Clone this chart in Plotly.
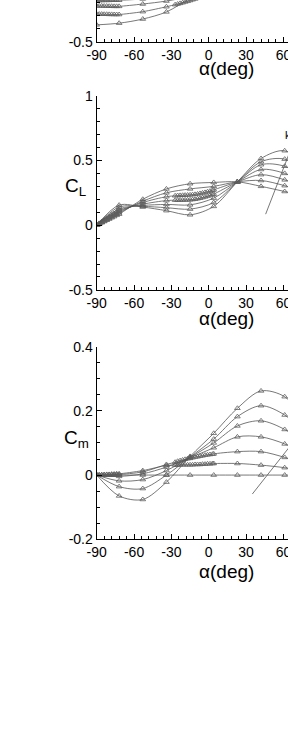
import plotly.graph_objects as go

# ---------------- data ----------------
ALPHA = [-90, -72, -53, -34, -15, 4, 23, 42, 61, 80]
DENSE_LEFT_ALPHA = [-88, -86, -84, -82, -80, -78, -76, -74]
DENSE_MID_ALPHA = [-27, -25, -23, -21, -19, -17, -13, -11, -9, -7, -5, -3, -1, 1, 3]

# top panel (only its lower part is visible), values at ALPHA[:6]
TOP_A = [-0.370, -0.357, -0.325, -0.270, -0.165, -0.060]
TOP_B = [-0.287, -0.290, -0.268, -0.230, -0.182, -0.125]
TOP_C = [-0.224, -0.227, -0.209, -0.186, -0.150, -0.100]
TOP_D = [-0.182, -0.180, -0.170, -0.150, -0.120, -0.090]
TOP_B_DENSE_LEFT = [-0.287, -0.287, -0.288, -0.288, -0.289, -0.289, -0.290, -0.290]
TOP_C_DENSE_LEFT = [-0.224, -0.224, -0.225, -0.225, -0.226, -0.226, -0.227, -0.227]
TOP_D_DENSE_LEFT = [-0.182, -0.182, -0.181, -0.181, -0.181, -0.180, -0.180, -0.180]
TOP_B_DENSE_MID = [-0.214, -0.209, -0.204, -0.199, -0.193, -0.188, -0.176, -0.170,
                   -0.164, -0.158, -0.152, -0.146, -0.140, -0.134, -0.128]

# lift coefficient, seven curves
CL_K0 = [0, 0.085, 0.200, 0.280, 0.320, 0.330, 0.335, 0.300, 0.260, 0.220]
CL_K1 = [0, 0.095, 0.185, 0.250, 0.280, 0.300, 0.335, 0.345, 0.305, 0.250]
CL_K2 = [0, 0.105, 0.175, 0.220, 0.234, 0.273, 0.335, 0.390, 0.350, 0.280]
CL_K3 = [0, 0.115, 0.162, 0.190, 0.196, 0.240, 0.335, 0.430, 0.400, 0.310]
CL_K4 = [0, 0.125, 0.152, 0.160, 0.157, 0.209, 0.335, 0.467, 0.455, 0.350]
CL_K5 = [0, 0.140, 0.145, 0.135, 0.124, 0.175, 0.335, 0.490, 0.510, 0.390]
CL_K6 = [0, 0.155, 0.140, 0.112, 0.080, 0.145, 0.335, 0.515, 0.575, 0.440]
CL_K0_DENSE_LEFT = [0.009, 0.019, 0.028, 0.038, 0.047, 0.057, 0.066, 0.076]
CL_K1_DENSE_LEFT = [0.011, 0.021, 0.032, 0.042, 0.053, 0.063, 0.074, 0.084]
CL_K2_DENSE_LEFT = [0.012, 0.024, 0.036, 0.047, 0.059, 0.070, 0.082, 0.093]
CL_K3_DENSE_LEFT = [0.014, 0.027, 0.040, 0.053, 0.066, 0.078, 0.090, 0.103]
CL_K2_DENSE_MID = [0.227, 0.229, 0.230, 0.231, 0.232, 0.233, 0.236, 0.238,
                   0.241, 0.245, 0.249, 0.253, 0.258, 0.263, 0.270]
CL_K3_DENSE_MID = [0.193, 0.193, 0.194, 0.194, 0.195, 0.195, 0.198, 0.200,
                   0.204, 0.208, 0.213, 0.218, 0.224, 0.230, 0.237]

# pitching-moment coefficient, seven curves
CM_K0 = [0, 0, 0, 0, 0, 0, 0, 0, 0, 0]
CM_K1 = [0, 0.004, 0.014, 0.030, 0.032, 0.036, 0.036, 0.031, 0.023, 0.012]
CM_K2 = [0, 0.002, 0.010, 0.033, 0.052, 0.066, 0.073, 0.073, 0.055, 0.030]
CM_K3 = [0, -0.004, 0.004, 0.025, 0.054, 0.085, 0.119, 0.119, 0.097, 0.060]
CM_K4 = [0, -0.018, -0.014, 0.014, 0.055, 0.100, 0.153, 0.169, 0.142, 0.090]
CM_K5 = [0, -0.036, -0.042, 0.000, 0.056, 0.112, 0.182, 0.216, 0.187, 0.120]
CM_K6 = [0, -0.065, -0.076, -0.022, 0.058, 0.130, 0.208, 0.262, 0.244, 0.160]
CM_K0_DENSE_LEFT = [0, 0, 0, 0, 0, 0, 0, 0]
CM_K1_DENSE_LEFT = [0.000, 0.001, 0.001, 0.002, 0.002, 0.003, 0.003, 0.004]
CM_K2_DENSE_LEFT = [0.000, 0.000, 0.001, 0.001, 0.001, 0.001, 0.002, 0.002]
CM_K1_DENSE_MID = [0.031, 0.031, 0.032, 0.032, 0.032, 0.032, 0.032, 0.033,
                   0.033, 0.033, 0.034, 0.034, 0.035, 0.035, 0.036]
CM_K2_DENSE_MID = [0.040, 0.043, 0.045, 0.047, 0.049, 0.051, 0.054, 0.056,
                   0.057, 0.059, 0.060, 0.062, 0.063, 0.064, 0.065]

# "k" direction line in each panel
ARROW_CL_ALPHA = [45.7, 70.0]
ARROW_CL_VAL = [0.085, 0.687]
ARROW_CM_ALPHA = [35.0, 70.0]
ARROW_CM_VAL = [-0.059, 0.113]

X_TICKS = [-90, -60, -30, 0, 30, 60]
X_TICK_TEXT = ["-90", "-60", "-30", "0", "30", "60"]
TOP_Y_TICKS = [-0.5]
TOP_Y_TICK_TEXT = ["-0.5"]
CL_Y_TICKS = [-0.5, 0, 0.5, 1]
CL_Y_TICK_TEXT = ["-0.5", "0", "0.5", "1"]
CM_Y_TICKS = [-0.2, 0, 0.2, 0.4]
CM_Y_TICK_TEXT = ["-0.2", "0", "0.2", "0.4"]

# ---------------- figure ----------------
W, H = 288, 734
FONT = "Liberation Sans, Arial, sans-serif"
LINE_COL = "#555555"
MARK_COL = "#606060"

fig = go.Figure()


def curve(xa, ya, main_x, main_y, dense=()):
    pts = list(zip(main_x, main_y))
    for dx, dy in dense:
        pts += list(zip(dx, dy))
    pts.sort(key=lambda p: p[0])
    fig.add_trace(go.Scatter(
        x=[p[0] for p in pts], y=[p[1] for p in pts], xaxis=xa, yaxis=ya,
        mode="lines+markers",
        line=dict(color=LINE_COL, width=0.8, shape="spline", smoothing=0.9),
        marker=dict(symbol="triangle-up-open", size=5, color=MARK_COL,
                    line=dict(width=0.8, color=MARK_COL)),
        showlegend=False, hoverinfo="skip"))


A6 = ALPHA[:6]
curve("x", "y", A6, TOP_A)
curve("x", "y", A6, TOP_B, [(DENSE_LEFT_ALPHA, TOP_B_DENSE_LEFT), (DENSE_MID_ALPHA, TOP_B_DENSE_MID)])
curve("x", "y", A6, TOP_C, [(DENSE_LEFT_ALPHA, TOP_C_DENSE_LEFT)])
curve("x", "y", A6, TOP_D, [(DENSE_LEFT_ALPHA, TOP_D_DENSE_LEFT)])

curve("x2", "y2", ALPHA, CL_K0, [(DENSE_LEFT_ALPHA, CL_K0_DENSE_LEFT)])
curve("x2", "y2", ALPHA, CL_K1, [(DENSE_LEFT_ALPHA, CL_K1_DENSE_LEFT)])
curve("x2", "y2", ALPHA, CL_K2, [(DENSE_LEFT_ALPHA, CL_K2_DENSE_LEFT), (DENSE_MID_ALPHA, CL_K2_DENSE_MID)])
curve("x2", "y2", ALPHA, CL_K3, [(DENSE_LEFT_ALPHA, CL_K3_DENSE_LEFT), (DENSE_MID_ALPHA, CL_K3_DENSE_MID)])
curve("x2", "y2", ALPHA, CL_K4)
curve("x2", "y2", ALPHA, CL_K5)
curve("x2", "y2", ALPHA, CL_K6)

curve("x3", "y3", ALPHA, CM_K0, [(DENSE_LEFT_ALPHA, CM_K0_DENSE_LEFT)])
curve("x3", "y3", ALPHA, CM_K1, [(DENSE_LEFT_ALPHA, CM_K1_DENSE_LEFT), (DENSE_MID_ALPHA, CM_K1_DENSE_MID)])
curve("x3", "y3", ALPHA, CM_K2, [(DENSE_LEFT_ALPHA, CM_K2_DENSE_LEFT), (DENSE_MID_ALPHA, CM_K2_DENSE_MID)])
curve("x3", "y3", ALPHA, CM_K3)
curve("x3", "y3", ALPHA, CM_K4)
curve("x3", "y3", ALPHA, CM_K5)
curve("x3", "y3", ALPHA, CM_K6)

for xa, ya, ax, ay in [("x2", "y2", ARROW_CL_ALPHA, ARROW_CL_VAL),
                       ("x3", "y3", ARROW_CM_ALPHA, ARROW_CM_VAL)]:
    fig.add_trace(go.Scatter(x=ax, y=ay, xaxis=xa, yaxis=ya, mode="lines",
                             line=dict(color=LINE_COL, width=0.8),
                             showlegend=False, hoverinfo="skip"))

XDOM = [96.7 / W, 1.0]
XRANGE = [-90, -90 + (W - 96.7) / 1.245]


def ydom(top_px, bot_px):
    return [1 - bot_px / H, 1 - top_px / H]


def xaxis(anchor):
    return dict(domain=XDOM, range=XRANGE, anchor=anchor, showgrid=False, zeroline=False,
                showline=True, linecolor="black", linewidth=1.3,
                ticks="inside", ticklen=5, tickwidth=1, tickcolor="black",
                tickvals=X_TICKS, ticktext=X_TICK_TEXT, ticklabeloverflow="allow",
                tickfont=dict(family=FONT, size=14, color="black"),
                minor=dict(ticks="inside", ticklen=3, tickwidth=0.8, tickcolor="black", dtick=6, tick0=-90),
                automargin=False)


def yaxis(anchor, dom, rng, tv, tt, minor_dt):
    return dict(domain=dom, range=rng, anchor=anchor, showgrid=False, zeroline=False,
                showline=True, linecolor="black", linewidth=1.3,
                ticks="inside", ticklen=5, tickwidth=1, tickcolor="black",
                tickvals=tv, ticktext=tt, ticklabeloverflow="allow",
                tickfont=dict(family=FONT, size=14, color="black"),
                minor=dict(ticks="inside", ticklen=3, tickwidth=0.8, tickcolor="black",
                           dtick=minor_dt, tick0=rng[0]),
                automargin=False)


fig.update_layout(
    width=W, height=H, margin=dict(l=0, r=0, t=0, b=0),
    paper_bgcolor="white", plot_bgcolor="white",
    xaxis=xaxis("y"), xaxis2=xaxis("y2"), xaxis3=xaxis("y3"),
    yaxis=yaxis("x", ydom(0, 41.7), [-0.5, -0.5 + 41.7 / 129.5], TOP_Y_TICKS, TOP_Y_TICK_TEXT, 0.1),
    yaxis2=yaxis("x2", ydom(95.7, 289.9), [-0.5, 1.0], CL_Y_TICKS, CL_Y_TICK_TEXT, 0.1),
    yaxis3=yaxis("x3", ydom(346.6, 539.3), [-0.2, 0.4], CM_Y_TICKS, CM_Y_TICK_TEXT, 0.05),
    showlegend=False,
)

ann = []
for py in (68, 318.5, 571):
    ann.append(dict(text="α(deg)", x=226 / W, y=1 - py / H, xref="paper", yref="paper",
                    showarrow=False, xanchor="center", yanchor="middle",
                    font=dict(family=FONT, size=19, color="black")))
ann.append(dict(text="C<sub>L</sub>", x=88 / W, y=1 - 187 / H, xref="paper", yref="paper",
                showarrow=False, xanchor="right", yanchor="middle",
                font=dict(family=FONT, size=19, color="black")))
ann.append(dict(text="C<sub>m</sub>", x=91 / W, y=1 - 439 / H, xref="paper", yref="paper",
                showarrow=False, xanchor="right", yanchor="middle",
                font=dict(family=FONT, size=19, color="black")))
ann.append(dict(text="k", x=59.6, y=0.70, xref="x2", yref="y2", showarrow=False,
                xanchor="left", yanchor="middle", font=dict(family=FONT, size=11, color="black")))
fig.update_layout(annotations=ann)

fig.write_html("out.html", config={"displayModeBar": False},
               post_script="document.body.style.margin='0';")
